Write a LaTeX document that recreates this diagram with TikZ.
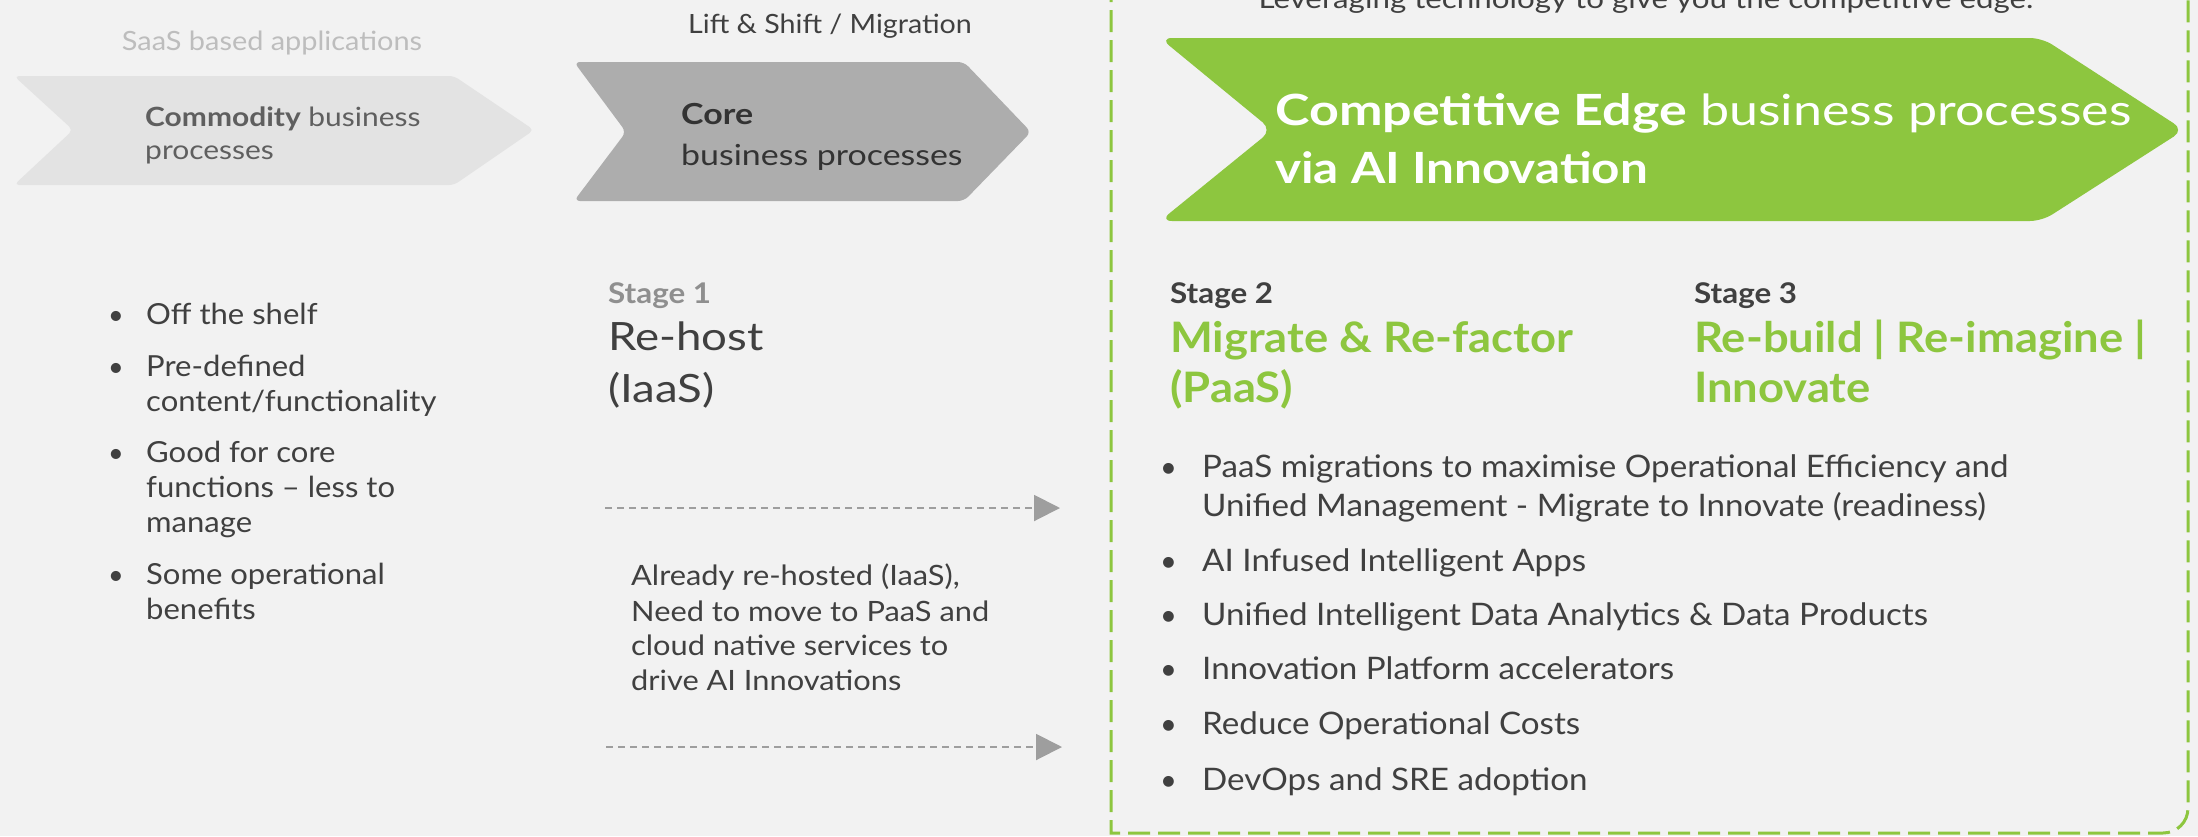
\documentclass[tikz,border=0pt]{standalone}
\usepackage{fontspec}
\setmainfont{Lato}
\usetikzlibrary{arrows.meta}
\definecolor{bgc}{HTML}{F2F2F2}
\definecolor{chevA}{HTML}{E3E3E3}
\definecolor{chevB}{HTML}{ADADAD}
\definecolor{grn}{HTML}{8DC63F}
\definecolor{dtext}{HTML}{404040}
\definecolor{ctext}{HTML}{333333}
\definecolor{mtext}{HTML}{5F5F5F}
\definecolor{ltext}{HTML}{BDBDBD}
\definecolor{stext}{HTML}{8F8F8F}
\definecolor{arr}{HTML}{9E9E9E}
\tikzset{
  tl/.style={anchor=base west, inner sep=0pt, text=dtext},
  tc/.style={anchor=base, inner sep=0pt, text=dtext},
  fs/.style 2 args={font=\fontsize{#1}{#1}\selectfont\addfontfeature{FakeStretch=#2}},
  dasharrow/.style={draw=arr, line width=2pt, dash pattern=on 7pt off 5pt, -{Triangle[length=26pt,width=26pt]}},
  gborder/.style={draw=grn, line width=3pt, dash pattern=on 22pt off 8pt},
}
\begin{document}
\begin{tikzpicture}[x=1pt,y=-1pt]
\useasboundingbox (0,0) rectangle (2198,836);
\fill[bgc] (0,0) rectangle (2198,836);

% green dashed frame
\draw[gborder] (1111,-20) -- (1111,833) -- (2163,833) .. controls (2177,833) and (2188,822) .. (2188,808) -- (2188,-20);

% chevrons
\fill[chevA, rounded corners=5pt] (14,76) -- (454,76) -- (534,130) -- (454,185) -- (14,185) -- (73,130) -- cycle;
\fill[chevB, rounded corners=6pt] (574,62) -- (964,62) -- (1031,132) -- (964,201) -- (574,201) -- (626,132) -- cycle;
\fill[grn, rounded corners=12pt] (1160,38) -- (2042,38) -- (2184,130) -- (2042,221) -- (1160,221) -- (1272,130) -- cycle;

% headings above chevrons
\node[tc, fs={26.5}{1.09}, text=ltext] (saas) at (272,50) {SaaS based applications};
\node[tc, fs={26.5}{1.08}] (lift) at (830,33) {Lift \& Shift / Migration};
\node[tc, fs={27}{1.16}] (lev) at (1646,8) {Leveraging technology to give you the competitive edge.};

% chevron texts
\node[tl, fs={26.5}{1.13}, text=mtext] (com1) at (145,126) {\textbf{Commodity} business};
\node[tl, fs={26.5}{1.13}, text=mtext] (com2) at (145,159) {processes};
\node[tl, fs={29}{1.17}, text=ctext] (core1) at (681,124) {\textbf{Core}};
\node[tl, fs={29}{1.17}, text=ctext] (core2) at (681,165) {business processes};
\node[tl, fs={43}{1.21}, text=white] (ce1) at (1275,125) {\textbf{Competitive Edge} business processes};
\node[tl, fs={43}{1.15}, text=white] (ce2) at (1275,183) {\textbf{via AI Innovation}};

% left bullets
\foreach \n/\y in {b1/324, b2/376, b3/462, b4/584}
  \node[tl, fs={27}{1}] (\n) at (108,\y) {•};
\node[tl, fs={29}{1.07}] (l1) at (146,324) {Off the shelf};
\node[tl, fs={29}{1.07}] (l2a) at (146,376) {Pre-defined};
\node[tl, fs={29}{1.07}] (l2b) at (146,411) {content/functionality};
\node[tl, fs={29}{1.07}] (l3a) at (146,462) {Good for core};
\node[tl, fs={29}{1.07}] (l3b) at (146,497) {functions – less to};
\node[tl, fs={29}{1.07}] (l3c) at (146,532) {manage};
\node[tl, fs={29}{1.07}] (l4a) at (146,584) {Some operational};
\node[tl, fs={29}{1.07}] (l4b) at (146,619) {benefits};

% stage 1
\node[tl, fs={28.5}{1.1}, text=stext] (s1) at (608,303) {\textbf{Stage 1}};
\node[tl, fs={39}{1.17}] (s1a) at (608,350) {Re-host};
\node[tl, fs={39}{1.17}] (s1b) at (608,402) {(IaaS)};

% arrows
\coordinate (a1s) at (605,508);
\coordinate (a1e) at (1060,508);
\coordinate (a2s) at (606,747);
\coordinate (a2e) at (1062,747);
\draw[dasharrow] (a1s) -- (a1e);
\draw[dasharrow] (a2s) -- (a2e);

\node[tl, fs={28}{1.1}] (ar1) at (631,585) {Already re-hosted (IaaS),};
\node[tl, fs={28}{1.1}] (ar2) at (631,621) {Need to move to PaaS and};
\node[tl, fs={28}{1.1}] (ar3) at (631,655) {cloud native services to};
\node[tl, fs={28}{1.1}] (ar4) at (631,690) {drive AI Innovations};

% stage 2 / 3
\node[tl, fs={28.5}{1.1}] (s2) at (1170,303) {\textbf{Stage 2}};
\node[tl, fs={42}{1.08}, text=grn] (s2a) at (1170,352) {\textbf{Migrate \& Re-factor}};
\node[tl, fs={42}{1.08}, text=grn] (s2b) at (1170,402) {\textbf{(PaaS)}};
\node[tl, fs={28.5}{1.1}] (s3) at (1694,303) {\textbf{Stage 3}};
\node[tl, fs={42}{1.08}, text=grn] (s3a) at (1694,352) {\textbf{Re-build | Re-imagine |}};
\node[tl, fs={42}{1.08}, text=grn] (s3b) at (1694,402) {\textbf{Innovate}};

% right bullets
\foreach \n/\y in {r1/477, r2/571, r3/625, r4/679, r5/734, r6/790}
  \node[tl, fs={29}{1}] (\n) at (1160,\y) {•};
\node[tl, fs={31}{1.07}] (rt1a) at (1202,477) {PaaS migrations to maximise Operational Efficiency and};
\node[tl, fs={31}{1.07}] (rt1b) at (1202,516) {Unified Management - Migrate to Innovate (readiness)};
\node[tl, fs={31}{1.07}] (rt2) at (1202,571) {AI Infused Intelligent Apps};
\node[tl, fs={31}{1.07}] (rt3) at (1202,625) {Unified Intelligent Data Analytics \& Data Products};
\node[tl, fs={31}{1.07}] (rt4) at (1202,679) {Innovation Platform accelerators};
\node[tl, fs={31}{1.07}] (rt5) at (1202,734) {Reduce Operational Costs};
\node[tl, fs={31}{1.07}] (rt6) at (1202,790) {DevOps and SRE adoption};
\end{tikzpicture}
\end{document}
